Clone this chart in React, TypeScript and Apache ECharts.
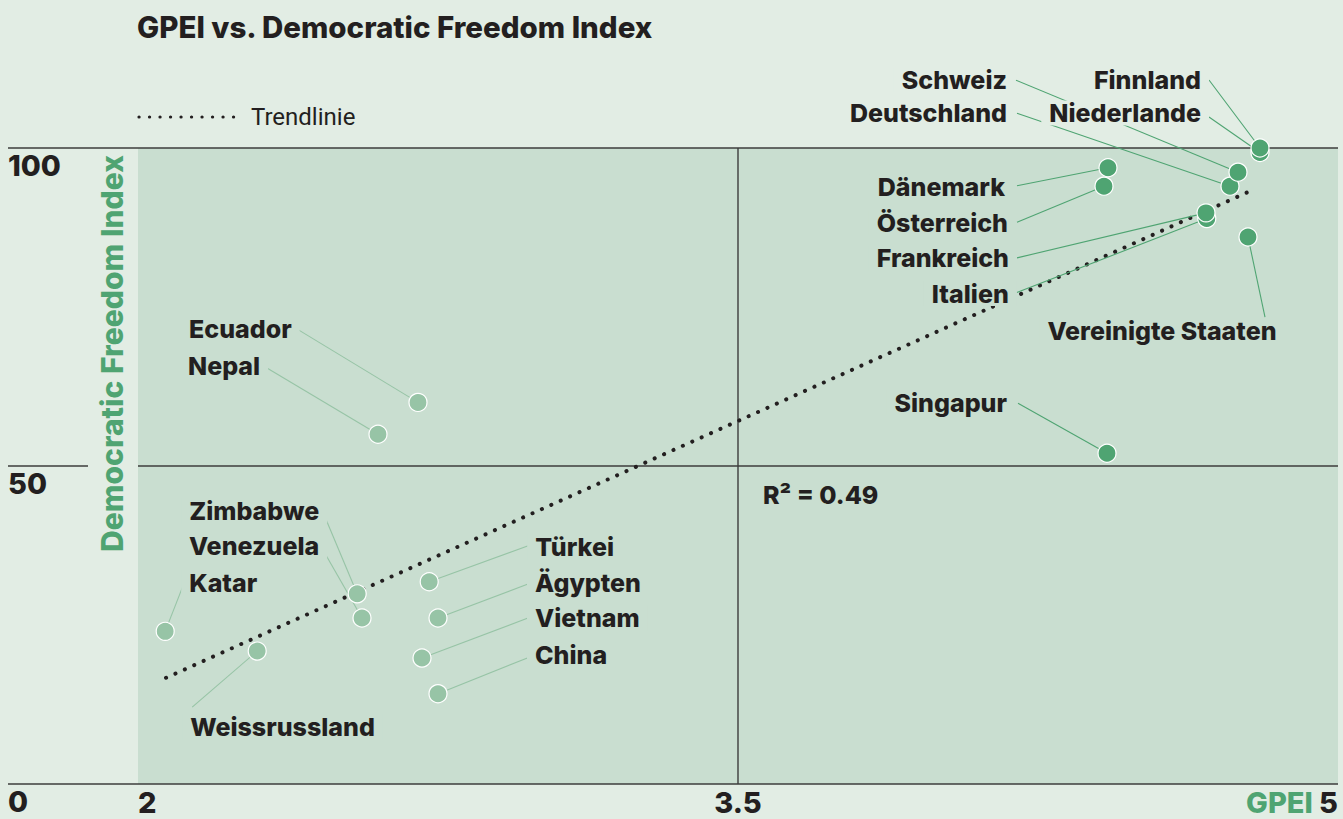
import React, { useEffect, useRef } from "react";
import * as echarts from "echarts";

// ---- Data ----
// Countries with high GPEI (drawn in dark green). Order = drawing order.
const highCountries = [
  "Vereinigte Staaten", "Singapur", "Italien", "Frankreich", "Österreich",
  "Dänemark", "Deutschland", "Schweiz", "Niederlande", "Finnland",
];
const highGpei = [4.775, 4.4225, 4.672, 4.67, 4.415, 4.425, 4.73, 4.75, 4.805, 4.805];
const highDfi = [86.0, 52.0, 88.9, 89.8, 94.0, 96.9, 94.0, 96.2, 99.3, 100.0];

// Countries with low GPEI (drawn in light green).
const lowCountries = [
  "Ecuador", "Nepal", "Zimbabwe", "Venezuela", "Katar",
  "Weissrussland", "Türkei", "Ägypten", "Vietnam", "China",
];
const lowGpei = [2.7, 2.6, 2.548, 2.56, 2.068, 2.298, 2.728, 2.75, 2.71, 2.75];
const lowDfi = [60.0, 55.0, 29.9, 26.1, 24.0, 20.9, 31.8, 26.1, 19.8, 14.2];

// Trend line end points
const trendGpei = [2.07, 4.79];
const trendDfi = [16.7, 93.5];
const rSquared = 0.49;

const xTicks = [2, 3.5, 5];
const yTicks = [0, 50, 100];

// ---- Layout / style (kept apart from data) ----
const OUTER_BG = "#e2ede4";
const PLOT_BG = "#c9ded0";
const DARK_GREEN = "#4fa472";
const LIGHT_GREEN = "#97c4a6";
const INK = "#231f20";
const RULE = "#3d3d3d";
const FONT = "Inter, 'Noto Sans', sans-serif";
const LABEL_WEIGHT = 800;

type Place = { dx: number; dy: number; align: "left" | "right" | "center"; lx: number; ly: number };
const placement: Record<string, Place> = {
  Finnland: { dx: -59, dy: -68, align: "right", lx: -51, ly: -68 },
  Niederlande: { dx: -59, dy: -39.5, align: "right", lx: -51, ly: -35.5 },
  Schweiz: { dx: -231, dy: -92, align: "right", lx: -222, ly: -92 },
  Deutschland: { dx: -223, dy: -73, align: "right", lx: -213, ly: -73 },
  "Dänemark": { dx: -103, dy: 19, align: "right", lx: -91, ly: 18 },
  "Österreich": { dx: -96, dy: 37, align: "right", lx: -87, ly: 36 },
  Frankreich: { dx: -197, dy: 45, align: "right", lx: -189, ly: 45 },
  Italien: { dx: -198, dy: 75, align: "right", lx: -190, ly: 74 },
  "Vereinigte Staaten": { dx: -86, dy: 94, align: "center", lx: 17, ly: 80 },
  Singapur: { dx: -100, dy: -50, align: "right", lx: -89, ly: -50 },
  Ecuador: { dx: -229, dy: -73, align: "left", lx: -122, ly: -74 },
  Nepal: { dx: -190, dy: -68, align: "left", lx: -114, ly: -68 },
  Zimbabwe: { dx: -168, dy: -83, align: "left", lx: -34, ly: -81 },
  Venezuela: { dx: -173, dy: -72, align: "left", lx: -39, ly: -68 },
  Katar: { dx: 24, dy: -48, align: "left", lx: 18, ly: -46 },
  Weissrussland: { dx: -67, dy: 76, align: "left", lx: -65, ly: 56 },
  "Türkei": { dx: 106, dy: -35, align: "left", lx: 99, ly: -36 },
  "Ägypten": { dx: 97, dy: -35, align: "left", lx: 90, ly: -34 },
  Vietnam: { dx: 113, dy: -40, align: "left", lx: 106, ly: -40 },
  China: { dx: 97, dy: -39, align: "left", lx: 90, ly: -36 },
};

const GRID_TOP = 148;
const LABEL_PAD = 8;

function pairs(xs: number[], ys: number[]) {
  return xs.map((x, i) => [x, ys[i]]);
}

function leaderSeries(names: string[], xs: number[], ys: number[], color: string) {
  return {
    type: "custom",
    silent: true,
    clip: false,
    z: 3,
    encode: { x: 0, y: 1 },
    data: pairs(xs, ys),
    renderItem: (params: any, api: any) => {
      const p = api.coord([api.value(0), api.value(1)]);
      const pl = placement[names[params.dataIndex]];
      return {
        type: "line",
        shape: { x1: p[0] + pl.lx, y1: p[1] + pl.ly, x2: p[0], y2: p[1] },
        style: { stroke: color, lineWidth: 1.1, fill: null },
      };
    },
  };
}

function labelSeries(names: string[], xs: number[], ys: number[]) {
  return {
    type: "custom",
    silent: true,
    clip: false,
    z: 4,
    encode: { x: 0, y: 1 },
    data: pairs(xs, ys),
    renderItem: (params: any, api: any) => {
      const p = api.coord([api.value(0), api.value(1)]);
      const name = names[params.dataIndex];
      const pl = placement[name];
      const ty = p[1] + pl.dy;
      const shift = pl.align === "left" ? -LABEL_PAD : pl.align === "right" ? LABEL_PAD : 0;
      return {
        type: "text",
        x: p[0] + pl.dx + shift,
        y: ty,
        style: {
          text: name,
          align: pl.align,
          verticalAlign: "middle",
          font: `${LABEL_WEIGHT} 25px ${FONT}`,
          fill: INK,
          backgroundColor: ty < GRID_TOP ? OUTER_BG : PLOT_BG,
          padding: [0, LABEL_PAD, 0, LABEL_PAD],
        },
      };
    },
  };
}

const baseOption: any = {
  animation: false,
  backgroundColor: OUTER_BG,
  title: {
    text: "GPEI vs. Democratic Freedom Index",
    left: 137,
    top: 12,
    padding: 0,
    textStyle: { fontFamily: FONT, fontWeight: LABEL_WEIGHT, fontSize: 29.5, color: INK },
  },
  grid: {
    left: 138,
    right: 5,
    top: GRID_TOP,
    bottom: 35,
    show: true,
    backgroundColor: PLOT_BG,
    borderWidth: 0,
  },
  xAxis: {
    type: "value",
    min: xTicks[0],
    max: xTicks[xTicks.length - 1],
    axisLine: { show: false },
    axisTick: { show: false },
    splitLine: { show: false },
    axisLabel: {
      customValues: xTicks,
      alignMinLabel: "left",
      alignMaxLabel: "right",
      margin: 4,
      fontFamily: FONT,
      fontWeight: LABEL_WEIGHT,
      fontSize: 29,
      color: INK,
      formatter: (v: number) => (v === xTicks[xTicks.length - 1] ? `{g|GPEI} ${v}` : String(v)),
      rich: { g: { fontFamily: FONT, fontWeight: LABEL_WEIGHT, fontSize: 29, color: DARK_GREEN } },
    },
  },
  yAxis: {
    type: "value",
    min: yTicks[0],
    max: yTicks[yTicks.length - 1],
    interval: 50,
    axisLine: { show: false },
    axisTick: { show: false },
    splitLine: { show: false },
    axisLabel: {
      align: "left",
      verticalAlign: "top",
      margin: 130,
      padding: [3, 0, 0, 0],
      fontFamily: FONT,
      fontWeight: LABEL_WEIGHT,
      fontSize: 29,
      color: INK,
    },
  },
  series: [
    {
      type: "line",
      data: pairs(trendGpei, trendDfi),
      showSymbol: false,
      symbol: "none",
      silent: true,
      z: 2,
      lineStyle: { color: INK, width: 4, type: [0.1, 10.2], cap: "round" },
    },
    leaderSeries(lowCountries, lowGpei, lowDfi, LIGHT_GREEN),
    leaderSeries(highCountries, highGpei, highDfi, DARK_GREEN),
    labelSeries(lowCountries, lowGpei, lowDfi),
    labelSeries(highCountries, highGpei, highDfi),
    {
      type: "scatter",
      name: "low",
      data: pairs(lowGpei, lowDfi),
      symbolSize: 18,
      clip: false,
      z: 5,
      itemStyle: { color: LIGHT_GREEN, borderColor: "#ffffff", borderWidth: 1.2, opacity: 1 },
    },
    {
      type: "scatter",
      name: "high",
      data: pairs(highGpei, highDfi),
      symbolSize: 18,
      clip: false,
      z: 5,
      itemStyle: { color: DARK_GREEN, borderColor: "#ffffff", borderWidth: 1.2, opacity: 1 },
    },
  ],
};

export default function App() {
  const ref = useRef<HTMLDivElement>(null);
  useEffect(() => {
    const chart = echarts.init(ref.current!, null, { renderer: "svg" });
    chart.setOption(baseOption);
    const P = (x: number, y: number) => chart.convertToPixel({ gridIndex: 0 }, [x, y]) as number[];
    const [xMin, yTop] = P(xTicks[0], yTicks[2]);
    const [xMax, yBottom] = P(xTicks[2], yTicks[0]);
    const [xMid, yMid] = P(xTicks[1], yTicks[1]);
    const left = 8;
    const rule = (x1: number, y1: number, x2: number, y2: number) => ({
      type: "line",
      silent: true,
      z: 1,
      shape: { x1, y1, x2, y2 },
      style: { stroke: RULE, lineWidth: 1.4 },
    });
    chart.setOption({
      graphic: {
        elements: [
          rule(left, yTop, xMax, yTop),
          rule(left, yMid, xMin - 50, yMid),
          rule(xMin, yMid, xMax, yMid),
          rule(left, yBottom, xMax, yBottom),
          rule(xMid, yTop, xMid, yBottom),
          {
            type: "text",
            silent: true,
            x: 112,
            y: yTop + 7,
            rotation: Math.PI / 2,
            style: {
              text: "Democratic Freedom Index",
              align: "right",
              verticalAlign: "middle",
              font: `${LABEL_WEIGHT} 30px ${FONT}`,
              fill: DARK_GREEN,
            },
          },
          {
            type: "line",
            silent: true,
            shape: { x1: 139, y1: 117, x2: 243, y2: 117 },
            style: { stroke: INK, lineWidth: 3.2, lineDash: [0.1, 10.4], lineCap: "round" },
          },
          {
            type: "text",
            silent: true,
            x: 251,
            y: 117,
            style: {
              text: "Trendlinie",
              align: "left",
              verticalAlign: "middle",
              font: `400 24px Roboto, ${FONT}`,
              fill: INK,
            },
          },
          {
            type: "text",
            silent: true,
            x: xMid + 25,
            y: yMid + 29,
            style: {
              text: `R² = ${rSquared}`,
              align: "left",
              verticalAlign: "middle",
              font: `${LABEL_WEIGHT} 25px ${FONT}`,
              fill: INK,
            },
          },
        ],
      },
    });
    return () => chart.dispose();
  }, []);
  return (
    <div
      ref={ref}
      style={{ position: "absolute", left: 0, top: 0, width: 1343, height: 819 }}
    />
  );
}
